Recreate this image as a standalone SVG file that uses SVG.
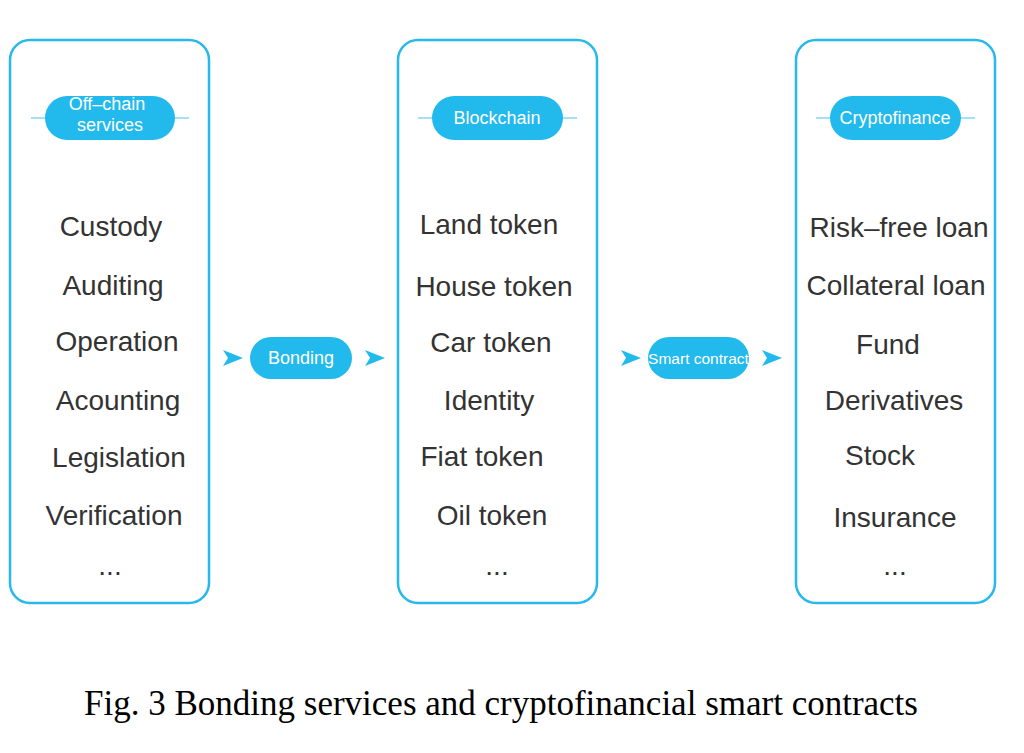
<svg xmlns="http://www.w3.org/2000/svg" width="1024" height="753" viewBox="0 0 1024 753">
<style>
.box{fill:#fff;stroke:#27b8ec;stroke-width:2.5}
.pill{fill:#22baec}
.hl{stroke:#86d6f4;stroke-width:1.5}
.pt{font-family:"Liberation Sans",Arial,sans-serif;font-size:18px;fill:#fff;text-anchor:middle}
.it{font-family:"Liberation Sans",Arial,sans-serif;font-size:28px;fill:#333;text-anchor:middle}
.cap{font-family:"Liberation Serif","Times New Roman",serif;font-size:35px;fill:#000;text-anchor:middle}
.arr{fill:#22baec}
</style>
<rect width="1024" height="753" fill="#fff"/>
<g id="col1">
<rect class="box" x="10" y="40" width="199" height="563" rx="20"/>
<line class="hl" x1="31" y1="118" x2="189" y2="118"/>
<rect class="pill" x="45" y="96" width="130" height="44" rx="22"/>
<text class="pt" x="107" y="110">Off–chain</text>
<text class="pt" x="110" y="131">services</text>
<text class="it" x="111" y="236">Custody</text>
<text class="it" x="113" y="295">Auditing</text>
<text class="it" x="117" y="351">Operation</text>
<text class="it" x="118" y="410">Acounting</text>
<text class="it" x="119" y="467">Legislation</text>
<text class="it" x="114" y="525">Verification</text>
<text class="it" x="110" y="575">...</text>
</g>
<g id="col2">
<rect class="box" x="398" y="40" width="199" height="563" rx="20"/>
<line class="hl" x1="418" y1="118" x2="577" y2="118"/>
<rect class="pill" x="432" y="96" width="131" height="44" rx="22"/>
<text class="pt" x="497" y="124">Blockchain</text>
<text class="it" x="489" y="234">Land token</text>
<text class="it" x="494" y="296">House token</text>
<text class="it" x="491" y="352">Car token</text>
<text class="it" x="489" y="410">Identity</text>
<text class="it" x="482" y="466">Fiat token</text>
<text class="it" x="492" y="525">Oil token</text>
<text class="it" x="497" y="575">...</text>
</g>
<g id="col3">
<rect class="box" x="796" y="40" width="199" height="563" rx="20"/>
<line class="hl" x1="816" y1="118" x2="975" y2="118"/>
<rect class="pill" x="830" y="96" width="131" height="44" rx="22"/>
<text class="pt" x="895" y="124">Cryptofinance</text>
<text class="it" x="899" y="237">Risk–free loan</text>
<text class="it" x="896" y="295">Collateral loan</text>
<text class="it" x="888" y="354">Fund</text>
<text class="it" x="894" y="410">Derivatives</text>
<text class="it" x="880" y="465">Stock</text>
<text class="it" x="895" y="527">Insurance</text>
<text class="it" x="895" y="575">...</text>
</g>
<g id="bonding">
<rect class="pill" x="250" y="337" width="102" height="42" rx="21"/>
<text class="pt" x="301" y="364">Bonding</text>
</g>
<g id="smart">
<rect class="pill" x="648" y="337" width="101" height="42" rx="21"/>
<text class="pt" x="698.5" y="364" style="font-size:15.5px">Smart contract</text>
</g>
<g id="connectors">
<path class="arr" d="M223,350 L243,358 L223,366 L228,358 Z"/>
<path class="arr" d="M365,350 L385,358 L365,366 L370,358 Z"/>
<path class="arr" d="M621,350 L641,358 L621,366 L626,358 Z"/>
<path class="arr" d="M762,350 L782,358 L762,366 L767,358 Z"/>
</g>
<text class="cap" x="501" y="715">Fig. 3 Bonding services and cryptofinancial smart contracts</text>
</svg>
